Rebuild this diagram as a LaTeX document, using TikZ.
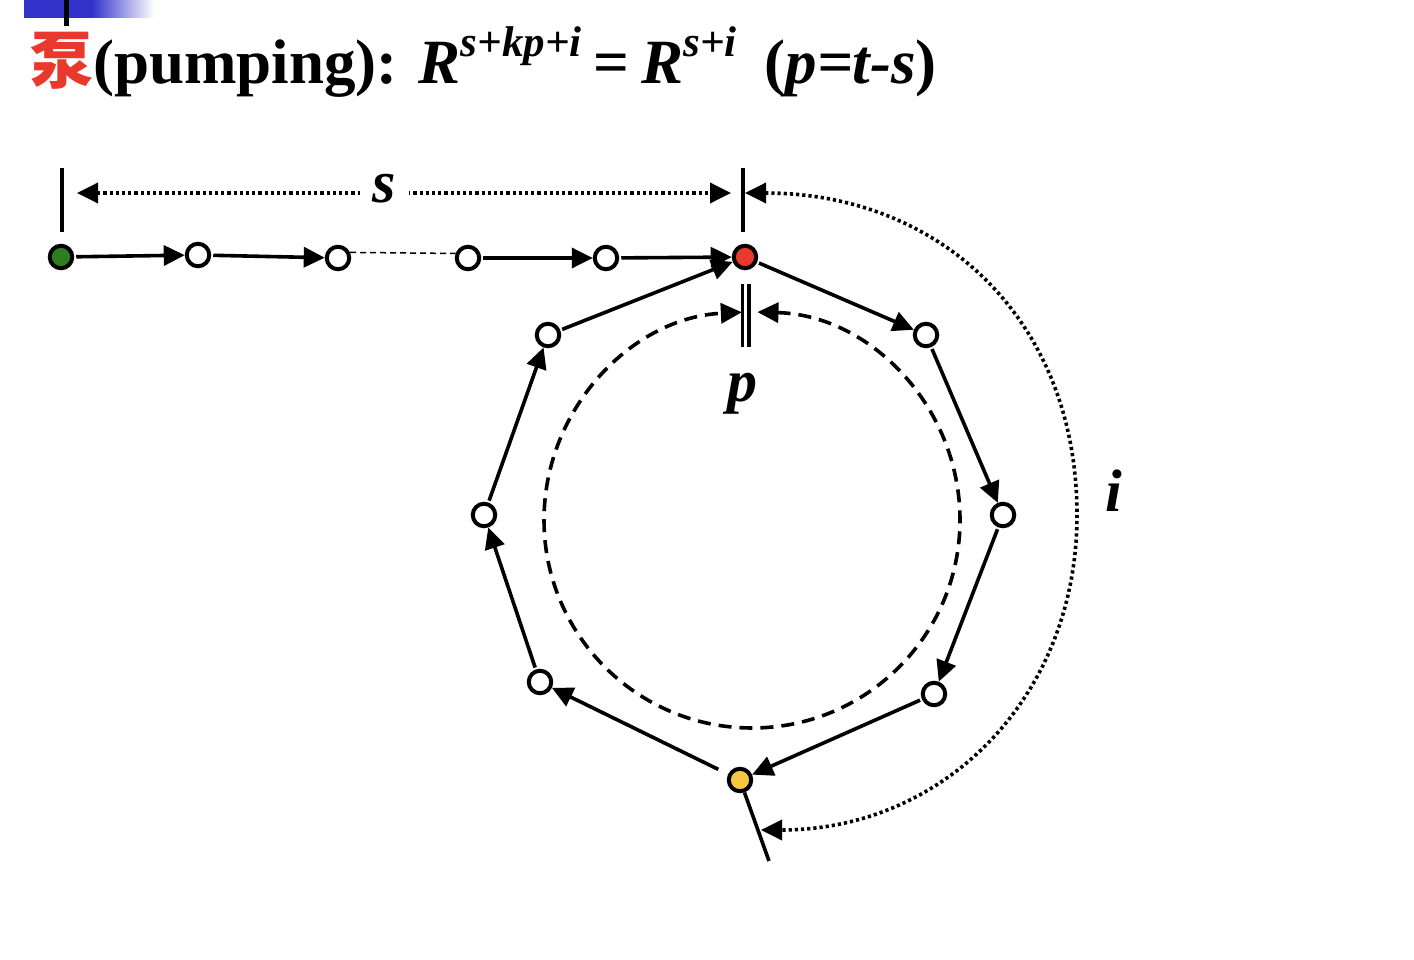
\documentclass[tikz,border=0pt]{standalone}
\usepackage{fontspec}
\setmainfont{Liberation Serif}
\newfontfamily\cjk{Noto Sans CJK SC}
\usetikzlibrary{automata, arrows.meta, positioning}

\definecolor{startgreen}{RGB}{46,125,32}
\definecolor{hotred}{RGB}{232,57,44}
\definecolor{loopyellow}{RGB}{246,200,66}
\definecolor{barblue}{RGB}{51,51,204}

\newcommand\powr[1]{\raisebox{27pt}{\fontsize{43}{43}\selectfont\bfseries\itshape #1}}

\tikzset{
	every state/.style={draw, line width=4pt, minimum size=22.5pt, inner sep=0pt},
	tr/.style={->, line width=3.6pt, shorten <=2pt},
	dimline/.style={line width=3.6pt, dash pattern=on 3.2pt off 3pt},
	lab/.style={font=\fontsize{60}{60}\selectfont\bfseries\itshape},
}

\begin{document}
\begin{tikzpicture}[x=1pt, y=1pt, >={Triangle[length=21pt,width=20pt]}]

	\useasboundingbox (0,0) rectangle (1414,-960);

	% slide header
	\fill[barblue] (24,0) rectangle (92,-18);
	\shade[left color=barblue, right color=white] (92,0) rectangle (154,-18);
	\fill (64,0) rectangle (69,-26);

	\node[anchor=base west, inner sep=0pt, font=\fontsize{63}{63}\selectfont] (title) at (30,-84)
	{{\cjk\bfseries\color{hotred}泵}{\bfseries(pumping): }{\bfseries\itshape R}\powr{s+kp+i}\hspace{12pt}{\bfseries=}\hspace{12pt}{\bfseries\itshape R}\powr{s+i}\hspace{28pt}{\bfseries(\itshape p=t-s\upshape)}};

	% states
	\node[state, fill=startgreen] (0) at (61,-257) {};
	\node[state] (1) at (198,-255) {};
	\node[state] (2) at (338,-258) {};
	\node[state] (3) at (468,-258) {};
	\node[state] (4) at (606,-258) {};
	\node[state, fill=hotred] (5) at (745,-257) {};
	\node[state] (6) at (926,-335) {};
	\node[state] (7) at (1003,-515) {};
	\node[state] (8) at (934,-694) {};
	\node[state, fill=loopyellow] (9) at (740,-780) {};
	\node[state] (10) at (540,-682) {};
	\node[state] (11) at (484,-515) {};
	\node[state] (12) at (548,-335) {};

	\draw
	(0) edge[tr] (1)
	(1) edge[tr] (2)
	(3) edge[tr] (4)
	(4) edge[tr] (5)
	(5) edge[tr] (6)
	(6) edge[tr] (7)
	(7) edge[tr] (8)
	(8) edge[tr] (9)
	(9) edge[tr, shorten <=11pt] (10)
	(10) edge[tr] (11)
	(11) edge[tr] (12)
	(12) edge[tr] (5);
	\draw[line width=1.5pt, dash pattern=on 6pt off 4pt] (2.25) -- (3.160);

	% measures
	\coordinate (sL) at (77,-193);
	\coordinate (sR) at (731,-193);
	\coordinate (iL) at (745,-193);
	\coordinate (iE) at (761,-830);
	\coordinate (tail) at (769,-861);
	\coordinate (c) at (752,-520);

	\draw[line width=3.2pt] (62,-168) -- (62,-232) (743,-168) -- (743,-232);
	\draw[line width=3.6pt] (9) -- (tail);
	\draw[dimline, <->] (sL) -- node[lab, fill=white, pos=0.47, inner xsep=13pt, yshift=4pt] (slab) {s} (sR);
	\draw[dimline, <->] (iL) to[out=0, in=90, looseness=1.08] (1077,-515) to[out=-90, in=0, looseness=1.05] (iE);
	\node[lab, anchor=base] (ilab) at (1114,-511) {i};

	\draw[line width=3.6pt, dash pattern=on 13pt off 8pt, <->]
	([shift={(88.5:208)}]c) arc[start angle=88.5, end angle=-267.2, radius=208];
	\draw[line width=3.2pt] (742.3,-284) -- (742.3,-347) (748.9,-284) -- (748.9,-347);
	\node[lab, anchor=base] (plab) at (742,-401) {p};

\end{tikzpicture}
\end{document}
